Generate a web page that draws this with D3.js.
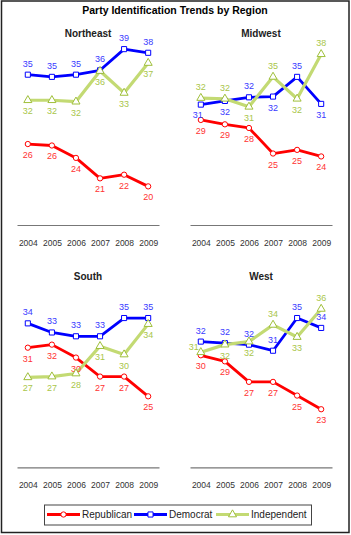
<!DOCTYPE html>
<html>
<head>
<meta charset="utf-8">
<script src="https://cdn.jsdelivr.net/npm/d3@7"></script>
<style>
  body { margin: 0; background: #fff; }
  svg { display: block; font-family: "Liberation Sans", Arial, sans-serif; }
</style>
</head>
<body>
<script>
// 数据：每个地区三条线，数值从图上读出（标签取整）
const years = [2004, 2005, 2006, 2007, 2008, 2009];
const regions = ["Northeast", "Midwest", "South", "West"];
const seriesNames = ["Republican", "Democrat", "Independent"];

const northeastRep = [25.9, 25.7, 24.0, 21.2, 21.7, 20.1];
const northeastDem = [35.4, 35.1, 35.4, 36.0, 38.9, 38.4];
const northeastInd = [31.9, 31.9, 31.7, 35.9, 32.9, 37.0];

const midwestRep = [29.2, 28.6, 28.1, 24.6, 25.1, 24.2];
const midwestDem = [31.3, 31.8, 32.3, 32.4, 35.1, 31.4];
const midwestInd = [32.2, 32.1, 31.0, 35.1, 32.1, 38.2];

const southRep = [31.2, 31.6, 29.9, 27.4, 27.4, 24.8];
const southDem = [34.4, 33.2, 32.7, 32.7, 35.1, 35.1];
const southInd = [27.3, 27.4, 27.8, 31.4, 30.3, 34.3];

const westRep = [30.2, 29.4, 26.7, 26.7, 24.9, 23.1];
const westDem = [32.0, 31.8, 31.6, 30.8, 35.1, 33.8];
const westInd = [30.6, 31.6, 32.0, 34.2, 32.6, 36.3];

// 标签位置：t 上方，b 下方，l 左下，L 左上
const northeastLabels = ["bbbbbb", "tttttt", "bbbbbb"];
const midwestLabels = ["bbbbbb", "lbtbtb", "ttbtbt"];
const southLabels = ["bbbbbb", "tttttt", "bbbbbb"];
const westLabels = ["bbbbbb", "tttttt", "Lbbtbt"];

const panels = [
  { name: regions[0], col: 0, row: 0, series: [northeastRep, northeastDem, northeastInd], labels: northeastLabels },
  { name: regions[1], col: 1, row: 0, series: [midwestRep, midwestDem, midwestInd], labels: midwestLabels },
  { name: regions[2], col: 0, row: 1, series: [southRep, southDem, southInd], labels: southLabels },
  { name: regions[3], col: 1, row: 1, series: [westRep, westDem, westInd], labels: westLabels }
];

const lineColors = ["#ff0000", "#0000ff", "#c3da73"];
const markerColors = ["#ff0000", "#0000ff", "#9fbf3a"];
const labelColors = ["#ff3333", "#3a3aff", "#a9c64a"];

const width = 351, height = 535;

const svg = d3.select("body").append("svg")
  .attr("width", width)
  .attr("height", height);

// 外框
svg.append("rect")
  .attr("x", 1.5).attr("y", 1)
  .attr("width", 347.5).attr("height", 531.5)
  .attr("fill", "#fff")
  .attr("stroke", "#222")
  .attr("stroke-width", 1.5);

svg.append("text")
  .attr("x", 175).attr("y", 14)
  .attr("text-anchor", "middle")
  .attr("font-size", 10.5)
  .attr("font-weight", "bold")
  .attr("fill", "#000")
  .text("Party Identification Trends by Region");

// 比例尺：两列 x，两行 y
const xRanges = [[17, 159], [190, 332]];
const yRanges = [[223.6, 41.1], [470.8, 280.8]];
const axisY = [225, 467.3];
const titleY = [36.5, 279.5];

const symbols = [d3.symbolCircle, d3.symbolSquare, d3.symbolTriangle];
const symbolSizes = [22, 26, 28];

const labelOffset = {
  t: [0, -8],
  b: [0, 14],
  l: [-3, 13],
  L: [-7, -2]
};

panels.forEach(p => {
  const x = d3.scalePoint().domain(years).range(xRanges[p.col]).padding(0.45);
  const y = d3.scaleLinear().domain([15, 40]).range(yRanges[p.row]);
  const g = svg.append("g");

  g.append("text")
    .attr("x", (xRanges[p.col][0] + xRanges[p.col][1]) / 2)
    .attr("y", titleY[p.row])
    .attr("text-anchor", "middle")
    .attr("font-size", 10)
    .attr("font-weight", "bold")
    .attr("fill", "#222")
    .text(p.name);

  // x 轴（只保留轴线和年份）
  const axis = g.append("g")
    .attr("transform", `translate(0,${axisY[p.row]})`)
    .call(d3.axisBottom(x).tickSize(0).tickPadding(15));
  axis.select(".domain").attr("stroke", "#777").attr("stroke-width", 1.2);
  axis.selectAll("text")
    .attr("font-size", 8.5)
    .attr("font-family", "Liberation Sans, Arial, sans-serif")
    .attr("fill", "#333");

  const line = d3.line()
    .x((d, i) => x(years[i]))
    .y(d => y(d));

  p.series.forEach((vals, si) => {
    g.append("path")
      .datum(vals)
      .attr("fill", "none")
      .attr("stroke", lineColors[si])
      .attr("stroke-width", si === 2 ? 3.2 : 2.8)
      .attr("stroke-linejoin", "round")
      .attr("d", line);
  });

  p.series.forEach((vals, si) => {
    g.append("g").selectAll("path")
      .data(vals)
      .join("path")
      .attr("transform", (d, i) => `translate(${x(years[i])},${y(d)})`)
      .attr("d", d3.symbol().type(symbols[si]).size(symbolSizes[si]))
      .attr("fill", "#fff")
      .attr("stroke", markerColors[si])
      .attr("stroke-width", 1);

    g.append("g").selectAll("text")
      .data(vals)
      .join("text")
      .attr("x", (d, i) => x(years[i]) + labelOffset[p.labels[si][i]][0])
      .attr("y", (d, i) => y(d) + labelOffset[p.labels[si][i]][1])
      .attr("text-anchor", "middle")
      .attr("font-size", 9)
      .attr("fill", labelColors[si])
      .text(d => Math.round(d));
  });
});

// 图例
const legend = svg.append("g");
legend.append("rect")
  .attr("x", 44.5).attr("y", 505)
  .attr("width", 267).attr("height", 20)
  .attr("fill", "#fff")
  .attr("stroke", "#444")
  .attr("stroke-width", 1);

const legendX = [47, 134, 216];
seriesNames.forEach((name, si) => {
  const lx = legendX[si];
  legend.append("line")
    .attr("x1", lx).attr("x2", lx + 33)
    .attr("y1", 514.5).attr("y2", 514.5)
    .attr("stroke", lineColors[si])
    .attr("stroke-width", 2.8);
  legend.append("path")
    .attr("transform", `translate(${lx + 16.5},514.5)`)
    .attr("d", d3.symbol().type(symbols[si]).size(symbolSizes[si]))
    .attr("fill", "#fff")
    .attr("stroke", markerColors[si])
    .attr("stroke-width", 1);
  legend.append("text")
    .attr("x", lx + 35).attr("y", 518)
    .attr("font-size", 10)
    .attr("fill", "#222")
    .text(name);
});
</script>
</body>
</html>
